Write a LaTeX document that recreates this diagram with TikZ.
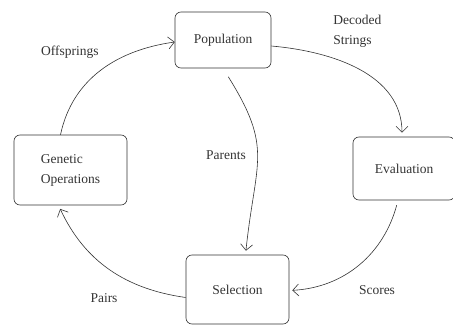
\documentclass[tikz,border=0pt]{standalone}
\usepackage{fontspec}
\setmainfont{Liberation Serif}
\usetikzlibrary{arrows.meta}

\begin{document}
\begin{tikzpicture}[->,>={Straight Barb[length=6pt,width=12pt]},x=1pt,y=1pt,
    font=\rmfamily\fontsize{13.5}{20}\selectfont,line width=0.6pt,black!80]
  \tikzstyle{block}=[rectangle,draw,rounded corners=6pt,inner sep=0pt]
  \tikzstyle{lbl}=[inner sep=0pt,align=left]
  \useasboundingbox (0,0) rectangle (453,325);
  \node[block,minimum width=96,minimum height=56] (pop) at (223,285) {Population};
  \node[block,minimum width=102,minimum height=63] (eval) at (404,156.5) {Evaluation};
  \node[block,minimum width=113,minimum height=70,align=left] (gen) at (70.5,155) {Genetic\\Operations};
  \node[block,minimum width=103,minimum height=69] (sel) at (237.5,35.5) {Selection};
  \draw ([xshift=-10]gen.north) to[out=78,in=188] ([yshift=-2]pop.west);
  \draw[shorten >=4pt] ([yshift=-6]pop.east) to[out=-5,in=90] ([xshift=-2]eval.north);
  \draw[shorten <=10pt,shorten >=4pt] (pop.south) to[out=-58,in=84,looseness=1.3] ([xshift=8]sel.north);
  \draw[shorten <=5pt,shorten >=3pt] ([xshift=-6]eval.south) to[out=-105,in=3] ([yshift=-1]sel.east);
  \draw[shorten >=4pt] ([yshift=-8]sel.west) to[out=172,in=-65] ([xshift=-12]gen.south);
  \node[lbl] (l1) at (70,273) {Offsprings};
  \node[lbl,anchor=west] (l2) at (333,294) {Decoded\\Strings};
  \node[lbl] (l3) at (226,170) {Parents};
  \node[lbl] (l4) at (377,35) {Scores};
  \node[lbl] (l5) at (104,27) {Pairs};
\end{tikzpicture}
\end{document}
